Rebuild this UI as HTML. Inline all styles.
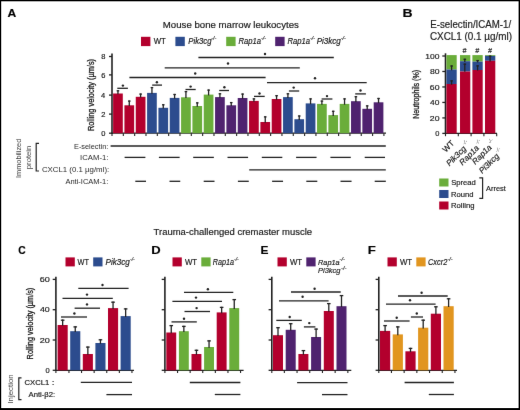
<!DOCTYPE html>
<html><head><meta charset="utf-8"><style>
html,body{margin:0;padding:0;background:#fff;}
body{width:520px;height:410px;overflow:hidden;}
svg{display:block;font-family:"Liberation Sans", sans-serif;will-change:transform;}
text{stroke:#1a1a1a;stroke-width:0.18px;}
text.sup,text.ns{stroke:none;}
</style></head><body>
<svg width="520" height="410" viewBox="0 0 520 410">
<defs><filter id="bl" x="0" y="0" width="520" height="410" filterUnits="userSpaceOnUse" color-interpolation-filters="sRGB"><feConvolveMatrix order="3" kernelMatrix="0.00276 0.04704 0.00276 0.04704 0.80077 0.04704 0.00276 0.04704 0.00276" divisor="1" edgeMode="duplicate" preserveAlpha="true"/></filter></defs>
<rect x="0" y="0" width="520" height="410" fill="#fff"/>
<g filter="url(#bl)">
<rect x="0" y="0" width="520" height="410" fill="#fff"/>
<text x="7.40" y="17.30" font-size="11.3" font-style="normal" font-weight="bold" fill="#000" textLength="8.73" lengthAdjust="spacingAndGlyphs">A</text>
<text x="162.83" y="28.20" font-size="9.3" font-style="normal" font-weight="normal" fill="#1a1a1a" textLength="135.99" lengthAdjust="spacingAndGlyphs">Mouse bone marrow leukocytes</text>
<rect x="141.00" y="36.80" width="9.40" height="9.30" fill="#b3002d"/>
<rect x="175.40" y="36.80" width="9.40" height="9.30" fill="#2c4c8e"/>
<rect x="226.20" y="36.80" width="9.40" height="9.30" fill="#6aad3a"/>
<rect x="275.20" y="36.80" width="9.40" height="9.30" fill="#4f226f"/>
<text x="153.66" y="44.00" font-size="8.3" font-style="normal" font-weight="normal" fill="#1a1a1a" textLength="12.09" lengthAdjust="spacingAndGlyphs">WT</text>
<text x="188.27" y="44.00" font-size="8.3" font-style="italic" font-weight="normal" fill="#1a1a1a" textLength="23.28" lengthAdjust="spacingAndGlyphs">Pik3cg</text>
<text x="211.34" y="40.30" font-size="5.0" font-style="italic" font-weight="normal" fill="#333" textLength="4.99" lengthAdjust="spacingAndGlyphs">-/-</text>
<text x="238.47" y="44.00" font-size="8.3" font-style="italic" font-weight="normal" fill="#1a1a1a" textLength="22.57" lengthAdjust="spacingAndGlyphs">Rap1a</text>
<text x="260.92" y="40.30" font-size="5.0" font-style="italic" font-weight="normal" fill="#333" textLength="5.21" lengthAdjust="spacingAndGlyphs">-/-</text>
<text x="287.47" y="44.00" font-size="8.3" font-style="italic" font-weight="normal" fill="#1a1a1a" textLength="22.57" lengthAdjust="spacingAndGlyphs">Rap1a</text>
<text x="309.92" y="40.30" font-size="5.0" font-style="italic" font-weight="normal" fill="#333" textLength="5.21" lengthAdjust="spacingAndGlyphs">-/-</text>
<text x="316.66" y="44.00" font-size="8.3" font-style="italic" font-weight="normal" fill="#1a1a1a" textLength="24.19" lengthAdjust="spacingAndGlyphs">Pi3kcg</text>
<text x="340.72" y="40.30" font-size="5.0" font-style="italic" font-weight="normal" fill="#333" textLength="5.21" lengthAdjust="spacingAndGlyphs">-/-</text>
<line x1="112.00" y1="53.50" x2="112.00" y2="133.90" stroke="#222" stroke-width="1.6"/>
<line x1="109.00" y1="133.20" x2="112.00" y2="133.20" stroke="#222" stroke-width="1.3"/>
<text x="101.20" y="135.88" font-size="7.5" font-style="normal" font-weight="normal" fill="#1a1a1a" textLength="4.17" lengthAdjust="spacingAndGlyphs">0</text>
<line x1="109.00" y1="114.10" x2="112.00" y2="114.10" stroke="#222" stroke-width="1.3"/>
<text x="101.31" y="116.78" font-size="7.5" font-style="normal" font-weight="normal" fill="#1a1a1a" textLength="4.17" lengthAdjust="spacingAndGlyphs">2</text>
<line x1="109.00" y1="95.10" x2="112.00" y2="95.10" stroke="#222" stroke-width="1.3"/>
<text x="101.12" y="97.78" font-size="7.5" font-style="normal" font-weight="normal" fill="#1a1a1a" textLength="4.17" lengthAdjust="spacingAndGlyphs">4</text>
<line x1="109.00" y1="74.90" x2="112.00" y2="74.90" stroke="#222" stroke-width="1.3"/>
<text x="101.24" y="77.59" font-size="7.5" font-style="normal" font-weight="normal" fill="#1a1a1a" textLength="4.17" lengthAdjust="spacingAndGlyphs">6</text>
<line x1="109.00" y1="56.50" x2="112.00" y2="56.50" stroke="#222" stroke-width="1.3"/>
<text x="101.24" y="59.19" font-size="7.5" font-style="normal" font-weight="normal" fill="#1a1a1a" textLength="4.17" lengthAdjust="spacingAndGlyphs">8</text>
<text transform="translate(93.60,131.09) rotate(-90)" font-size="9.0" fill="#1a1a1a" textLength="72.13" lengthAdjust="spacingAndGlyphs" style="stroke-width:0.3px">Rolling velocity (µm/s)</text>
<line x1="111.50" y1="133.20" x2="386.00" y2="133.20" stroke="#222" stroke-width="1.3"/>
<line x1="112.00" y1="133.20" x2="112.00" y2="136.00" stroke="#222" stroke-width="1.1"/>
<line x1="123.33" y1="133.20" x2="123.33" y2="136.00" stroke="#222" stroke-width="1.1"/>
<line x1="134.66" y1="133.20" x2="134.66" y2="136.00" stroke="#222" stroke-width="1.1"/>
<line x1="145.99" y1="133.20" x2="145.99" y2="136.00" stroke="#222" stroke-width="1.1"/>
<line x1="157.32" y1="133.20" x2="157.32" y2="136.00" stroke="#222" stroke-width="1.1"/>
<line x1="168.65" y1="133.20" x2="168.65" y2="136.00" stroke="#222" stroke-width="1.1"/>
<line x1="179.98" y1="133.20" x2="179.98" y2="136.00" stroke="#222" stroke-width="1.1"/>
<line x1="191.31" y1="133.20" x2="191.31" y2="136.00" stroke="#222" stroke-width="1.1"/>
<line x1="202.64" y1="133.20" x2="202.64" y2="136.00" stroke="#222" stroke-width="1.1"/>
<line x1="213.97" y1="133.20" x2="213.97" y2="136.00" stroke="#222" stroke-width="1.1"/>
<line x1="225.30" y1="133.20" x2="225.30" y2="136.00" stroke="#222" stroke-width="1.1"/>
<line x1="236.63" y1="133.20" x2="236.63" y2="136.00" stroke="#222" stroke-width="1.1"/>
<line x1="247.96" y1="133.20" x2="247.96" y2="136.00" stroke="#222" stroke-width="1.1"/>
<line x1="259.29" y1="133.20" x2="259.29" y2="136.00" stroke="#222" stroke-width="1.1"/>
<line x1="270.62" y1="133.20" x2="270.62" y2="136.00" stroke="#222" stroke-width="1.1"/>
<line x1="281.95" y1="133.20" x2="281.95" y2="136.00" stroke="#222" stroke-width="1.1"/>
<line x1="293.28" y1="133.20" x2="293.28" y2="136.00" stroke="#222" stroke-width="1.1"/>
<line x1="304.61" y1="133.20" x2="304.61" y2="136.00" stroke="#222" stroke-width="1.1"/>
<line x1="315.94" y1="133.20" x2="315.94" y2="136.00" stroke="#222" stroke-width="1.1"/>
<line x1="327.27" y1="133.20" x2="327.27" y2="136.00" stroke="#222" stroke-width="1.1"/>
<line x1="338.60" y1="133.20" x2="338.60" y2="136.00" stroke="#222" stroke-width="1.1"/>
<line x1="349.93" y1="133.20" x2="349.93" y2="136.00" stroke="#222" stroke-width="1.1"/>
<line x1="361.26" y1="133.20" x2="361.26" y2="136.00" stroke="#222" stroke-width="1.1"/>
<line x1="372.59" y1="133.20" x2="372.59" y2="136.00" stroke="#222" stroke-width="1.1"/>
<line x1="383.92" y1="133.20" x2="383.92" y2="136.00" stroke="#222" stroke-width="1.1"/>
<rect x="113.10" y="93.50" width="9.70" height="39.70" fill="#b3002d"/>
<line x1="117.95" y1="90.20" x2="117.95" y2="94.30" stroke="#222" stroke-width="1.3"/>
<line x1="116.65" y1="90.80" x2="119.25" y2="90.80" stroke="#222" stroke-width="1.3"/>
<rect x="124.43" y="105.30" width="9.70" height="27.90" fill="#b3002d"/>
<line x1="129.28" y1="100.50" x2="129.28" y2="106.10" stroke="#222" stroke-width="1.3"/>
<line x1="127.98" y1="101.10" x2="130.58" y2="101.10" stroke="#222" stroke-width="1.3"/>
<rect x="135.76" y="96.80" width="9.70" height="36.40" fill="#b3002d"/>
<line x1="140.61" y1="93.50" x2="140.61" y2="97.60" stroke="#222" stroke-width="1.3"/>
<line x1="139.31" y1="94.10" x2="141.91" y2="94.10" stroke="#222" stroke-width="1.3"/>
<rect x="147.09" y="92.90" width="9.70" height="40.30" fill="#2c4c8e"/>
<line x1="151.94" y1="87.00" x2="151.94" y2="93.70" stroke="#222" stroke-width="1.3"/>
<line x1="150.64" y1="87.60" x2="153.24" y2="87.60" stroke="#222" stroke-width="1.3"/>
<rect x="158.42" y="107.80" width="9.70" height="25.40" fill="#2c4c8e"/>
<line x1="163.27" y1="104.20" x2="163.27" y2="108.60" stroke="#222" stroke-width="1.3"/>
<line x1="161.97" y1="104.80" x2="164.57" y2="104.80" stroke="#222" stroke-width="1.3"/>
<rect x="169.75" y="97.90" width="9.70" height="35.30" fill="#2c4c8e"/>
<line x1="174.60" y1="93.90" x2="174.60" y2="98.70" stroke="#222" stroke-width="1.3"/>
<line x1="173.30" y1="94.50" x2="175.90" y2="94.50" stroke="#222" stroke-width="1.3"/>
<rect x="181.08" y="97.30" width="9.70" height="35.90" fill="#6aad3a"/>
<line x1="185.93" y1="91.00" x2="185.93" y2="98.10" stroke="#222" stroke-width="1.3"/>
<line x1="184.63" y1="91.60" x2="187.23" y2="91.60" stroke="#222" stroke-width="1.3"/>
<rect x="192.41" y="106.00" width="9.70" height="27.20" fill="#6aad3a"/>
<line x1="197.26" y1="102.30" x2="197.26" y2="106.80" stroke="#222" stroke-width="1.3"/>
<line x1="195.96" y1="102.90" x2="198.56" y2="102.90" stroke="#222" stroke-width="1.3"/>
<rect x="203.74" y="94.60" width="9.70" height="38.60" fill="#6aad3a"/>
<line x1="208.59" y1="89.50" x2="208.59" y2="95.40" stroke="#222" stroke-width="1.3"/>
<line x1="207.29" y1="90.10" x2="209.89" y2="90.10" stroke="#222" stroke-width="1.3"/>
<rect x="215.07" y="97.10" width="9.70" height="36.10" fill="#4f226f"/>
<line x1="219.92" y1="93.20" x2="219.92" y2="97.90" stroke="#222" stroke-width="1.3"/>
<line x1="218.62" y1="93.80" x2="221.22" y2="93.80" stroke="#222" stroke-width="1.3"/>
<rect x="226.40" y="105.30" width="9.70" height="27.90" fill="#4f226f"/>
<line x1="231.25" y1="102.00" x2="231.25" y2="106.10" stroke="#222" stroke-width="1.3"/>
<line x1="229.95" y1="102.60" x2="232.55" y2="102.60" stroke="#222" stroke-width="1.3"/>
<rect x="237.73" y="98.00" width="9.70" height="35.20" fill="#4f226f"/>
<line x1="242.58" y1="93.50" x2="242.58" y2="98.80" stroke="#222" stroke-width="1.3"/>
<line x1="241.28" y1="94.10" x2="243.88" y2="94.10" stroke="#222" stroke-width="1.3"/>
<rect x="249.06" y="100.90" width="9.70" height="32.30" fill="#b3002d"/>
<line x1="253.91" y1="98.30" x2="253.91" y2="101.70" stroke="#222" stroke-width="1.3"/>
<line x1="252.61" y1="98.90" x2="255.21" y2="98.90" stroke="#222" stroke-width="1.3"/>
<rect x="260.39" y="122.00" width="9.70" height="11.20" fill="#b3002d"/>
<line x1="265.24" y1="116.30" x2="265.24" y2="122.80" stroke="#222" stroke-width="1.3"/>
<line x1="263.94" y1="116.90" x2="266.54" y2="116.90" stroke="#222" stroke-width="1.3"/>
<rect x="271.72" y="99.00" width="9.70" height="34.20" fill="#b3002d"/>
<line x1="276.57" y1="95.10" x2="276.57" y2="99.80" stroke="#222" stroke-width="1.3"/>
<line x1="275.27" y1="95.70" x2="277.87" y2="95.70" stroke="#222" stroke-width="1.3"/>
<rect x="283.05" y="97.10" width="9.70" height="36.10" fill="#2c4c8e"/>
<line x1="287.90" y1="93.20" x2="287.90" y2="97.90" stroke="#222" stroke-width="1.3"/>
<line x1="286.60" y1="93.80" x2="289.20" y2="93.80" stroke="#222" stroke-width="1.3"/>
<rect x="294.38" y="119.20" width="9.70" height="14.00" fill="#2c4c8e"/>
<line x1="299.23" y1="115.40" x2="299.23" y2="120.00" stroke="#222" stroke-width="1.3"/>
<line x1="297.93" y1="116.00" x2="300.53" y2="116.00" stroke="#222" stroke-width="1.3"/>
<rect x="305.71" y="103.40" width="9.70" height="29.80" fill="#2c4c8e"/>
<line x1="310.56" y1="98.30" x2="310.56" y2="104.20" stroke="#222" stroke-width="1.3"/>
<line x1="309.26" y1="98.90" x2="311.86" y2="98.90" stroke="#222" stroke-width="1.3"/>
<rect x="317.04" y="103.90" width="9.70" height="29.30" fill="#6aad3a"/>
<line x1="321.89" y1="100.50" x2="321.89" y2="104.70" stroke="#222" stroke-width="1.3"/>
<line x1="320.59" y1="101.10" x2="323.19" y2="101.10" stroke="#222" stroke-width="1.3"/>
<rect x="328.37" y="115.10" width="9.70" height="18.10" fill="#6aad3a"/>
<line x1="333.22" y1="110.70" x2="333.22" y2="115.90" stroke="#222" stroke-width="1.3"/>
<line x1="331.92" y1="111.30" x2="334.52" y2="111.30" stroke="#222" stroke-width="1.3"/>
<rect x="339.70" y="103.90" width="9.70" height="29.30" fill="#6aad3a"/>
<line x1="344.55" y1="98.30" x2="344.55" y2="104.70" stroke="#222" stroke-width="1.3"/>
<line x1="343.25" y1="98.90" x2="345.85" y2="98.90" stroke="#222" stroke-width="1.3"/>
<rect x="351.03" y="101.20" width="9.70" height="32.00" fill="#4f226f"/>
<line x1="355.88" y1="96.10" x2="355.88" y2="102.00" stroke="#222" stroke-width="1.3"/>
<line x1="354.58" y1="96.70" x2="357.18" y2="96.70" stroke="#222" stroke-width="1.3"/>
<rect x="362.36" y="108.80" width="9.70" height="24.40" fill="#4f226f"/>
<line x1="367.21" y1="105.30" x2="367.21" y2="109.60" stroke="#222" stroke-width="1.3"/>
<line x1="365.91" y1="105.90" x2="368.51" y2="105.90" stroke="#222" stroke-width="1.3"/>
<rect x="373.69" y="102.30" width="9.70" height="30.90" fill="#4f226f"/>
<line x1="378.54" y1="97.90" x2="378.54" y2="103.10" stroke="#222" stroke-width="1.3"/>
<line x1="377.24" y1="98.50" x2="379.84" y2="98.50" stroke="#222" stroke-width="1.3"/>
<line x1="117.30" y1="88.30" x2="127.90" y2="88.30" stroke="#222" stroke-width="1.3"/>
<circle cx="122.90" cy="85.60" r="1.2" fill="#222"/>
<line x1="152.20" y1="85.10" x2="162.00" y2="85.10" stroke="#222" stroke-width="1.3"/>
<circle cx="156.90" cy="82.20" r="1.2" fill="#222"/>
<line x1="185.50" y1="89.50" x2="195.70" y2="89.50" stroke="#222" stroke-width="1.3"/>
<circle cx="190.60" cy="86.60" r="1.2" fill="#222"/>
<line x1="219.20" y1="90.50" x2="229.00" y2="90.50" stroke="#222" stroke-width="1.3"/>
<circle cx="224.40" cy="87.30" r="1.2" fill="#222"/>
<line x1="254.00" y1="96.40" x2="264.70" y2="96.40" stroke="#222" stroke-width="1.3"/>
<circle cx="259.50" cy="93.50" r="1.2" fill="#222"/>
<line x1="288.90" y1="91.00" x2="299.20" y2="91.00" stroke="#222" stroke-width="1.3"/>
<circle cx="293.70" cy="87.60" r="1.2" fill="#222"/>
<line x1="321.60" y1="99.00" x2="332.40" y2="99.00" stroke="#222" stroke-width="1.3"/>
<circle cx="327.00" cy="96.10" r="1.2" fill="#222"/>
<line x1="355.20" y1="93.90" x2="365.90" y2="93.90" stroke="#222" stroke-width="1.3"/>
<circle cx="360.50" cy="90.50" r="1.2" fill="#222"/>
<line x1="198.40" y1="57.50" x2="333.80" y2="57.50" stroke="#222" stroke-width="1.3"/>
<circle cx="265.00" cy="54.00" r="1.2" fill="#222"/>
<line x1="164.70" y1="67.80" x2="299.80" y2="67.80" stroke="#222" stroke-width="1.3"/>
<circle cx="228.00" cy="63.50" r="1.2" fill="#222"/>
<line x1="129.40" y1="77.50" x2="265.60" y2="77.50" stroke="#222" stroke-width="1.3"/>
<circle cx="195.20" cy="73.50" r="1.2" fill="#222"/>
<line x1="267.00" y1="82.60" x2="366.70" y2="82.60" stroke="#222" stroke-width="1.3"/>
<circle cx="315.00" cy="78.30" r="1.2" fill="#222"/>
<text x="74.01" y="148.60" font-size="8.0" font-style="normal" font-weight="normal" fill="#2a2a2a" textLength="34.34" lengthAdjust="spacingAndGlyphs" class="ns">E-selectin:</text>
<text x="80.11" y="160.30" font-size="8.0" font-style="normal" font-weight="normal" fill="#2a2a2a" textLength="28.27" lengthAdjust="spacingAndGlyphs" class="ns">ICAM-1:</text>
<text x="41.91" y="172.20" font-size="8.0" font-style="normal" font-weight="normal" fill="#2a2a2a" textLength="67.29" lengthAdjust="spacingAndGlyphs" class="ns">CXCL1 (0.1 µg/ml):</text>
<text x="65.40" y="184.00" font-size="8.0" font-style="normal" font-weight="normal" fill="#2a2a2a" textLength="42.96" lengthAdjust="spacingAndGlyphs" class="ns">Anti-ICAM-1:</text>
<line x1="110.60" y1="146.00" x2="385.80" y2="146.00" stroke="#222" stroke-width="1.3"/>
<line x1="124.60" y1="157.40" x2="145.40" y2="157.40" stroke="#222" stroke-width="1.3"/>
<line x1="135.30" y1="181.30" x2="146.00" y2="181.30" stroke="#222" stroke-width="1.3"/>
<line x1="158.90" y1="157.40" x2="179.63" y2="157.40" stroke="#222" stroke-width="1.3"/>
<line x1="169.50" y1="181.30" x2="180.26" y2="181.30" stroke="#222" stroke-width="1.3"/>
<line x1="193.20" y1="157.40" x2="213.86" y2="157.40" stroke="#222" stroke-width="1.3"/>
<line x1="203.70" y1="181.30" x2="214.52" y2="181.30" stroke="#222" stroke-width="1.3"/>
<line x1="227.50" y1="157.40" x2="248.09" y2="157.40" stroke="#222" stroke-width="1.3"/>
<line x1="237.90" y1="181.30" x2="248.78" y2="181.30" stroke="#222" stroke-width="1.3"/>
<line x1="261.80" y1="157.40" x2="282.32" y2="157.40" stroke="#222" stroke-width="1.3"/>
<line x1="272.10" y1="181.30" x2="283.04" y2="181.30" stroke="#222" stroke-width="1.3"/>
<line x1="296.10" y1="157.40" x2="316.55" y2="157.40" stroke="#222" stroke-width="1.3"/>
<line x1="306.30" y1="181.30" x2="317.30" y2="181.30" stroke="#222" stroke-width="1.3"/>
<line x1="330.40" y1="157.40" x2="350.78" y2="157.40" stroke="#222" stroke-width="1.3"/>
<line x1="340.50" y1="181.30" x2="351.56" y2="181.30" stroke="#222" stroke-width="1.3"/>
<line x1="364.70" y1="157.40" x2="385.01" y2="157.40" stroke="#222" stroke-width="1.3"/>
<line x1="374.70" y1="181.30" x2="385.82" y2="181.30" stroke="#222" stroke-width="1.3"/>
<line x1="249.20" y1="169.80" x2="385.80" y2="169.80" stroke="#222" stroke-width="1.3"/>
<text transform="translate(21.40,177.96) rotate(-90)" font-size="7.0" fill="#444" textLength="39.20" lengthAdjust="spacingAndGlyphs" style="stroke-width:0px">Immobilized</text>
<text transform="translate(30.90,169.20) rotate(-90)" font-size="7.0" fill="#444" textLength="23.48" lengthAdjust="spacingAndGlyphs" style="stroke-width:0px">protein</text>
<path d="M39,143.4 H36.2 V171 H39" fill="none" stroke="#222" stroke-width="1.2"/>
<text x="402.59" y="17.40" font-size="11.8" font-style="normal" font-weight="bold" fill="#000" textLength="10.10" lengthAdjust="spacingAndGlyphs">B</text>
<text x="430.32" y="28.30" font-size="10.3" font-style="normal" font-weight="normal" fill="#1a1a1a" textLength="80.83" lengthAdjust="spacingAndGlyphs">E-selectin/ICAM-1/</text>
<text x="429.90" y="40.40" font-size="10.3" font-style="normal" font-weight="normal" fill="#1a1a1a" textLength="82.20" lengthAdjust="spacingAndGlyphs">CXCL1 (0.1 µg/ml)</text>
<line x1="445.50" y1="53.30" x2="445.50" y2="134.10" stroke="#222" stroke-width="1.6"/>
<line x1="442.30" y1="133.40" x2="445.50" y2="133.40" stroke="#222" stroke-width="1.3"/>
<text x="435.30" y="136.12" font-size="7.6" font-style="normal" font-weight="normal" fill="#1a1a1a" textLength="4.17" lengthAdjust="spacingAndGlyphs">0</text>
<line x1="442.30" y1="117.92" x2="445.50" y2="117.92" stroke="#222" stroke-width="1.3"/>
<text x="429.87" y="120.64" font-size="7.6" font-style="normal" font-weight="normal" fill="#1a1a1a" textLength="9.66" lengthAdjust="spacingAndGlyphs">20</text>
<line x1="442.30" y1="102.44" x2="445.50" y2="102.44" stroke="#222" stroke-width="1.3"/>
<text x="430.13" y="105.16" font-size="7.6" font-style="normal" font-weight="normal" fill="#1a1a1a" textLength="9.38" lengthAdjust="spacingAndGlyphs">40</text>
<line x1="442.30" y1="86.96" x2="445.50" y2="86.96" stroke="#222" stroke-width="1.3"/>
<text x="429.87" y="89.68" font-size="7.6" font-style="normal" font-weight="normal" fill="#1a1a1a" textLength="9.66" lengthAdjust="spacingAndGlyphs">60</text>
<line x1="442.30" y1="71.48" x2="445.50" y2="71.48" stroke="#222" stroke-width="1.3"/>
<text x="429.96" y="74.20" font-size="7.6" font-style="normal" font-weight="normal" fill="#1a1a1a" textLength="9.57" lengthAdjust="spacingAndGlyphs">80</text>
<line x1="442.30" y1="56.00" x2="445.50" y2="56.00" stroke="#222" stroke-width="1.3"/>
<text x="425.36" y="58.72" font-size="7.6" font-style="normal" font-weight="normal" fill="#1a1a1a" textLength="14.16" lengthAdjust="spacingAndGlyphs">100</text>
<text transform="translate(418.90,118.77) rotate(-90)" font-size="9.0" fill="#1a1a1a" textLength="48.90" lengthAdjust="spacingAndGlyphs" style="stroke-width:0.3px">Neutrophils (%)</text>
<line x1="445.00" y1="133.40" x2="497.00" y2="133.40" stroke="#222" stroke-width="1.3"/>
<line x1="445.50" y1="133.40" x2="445.50" y2="136.20" stroke="#222" stroke-width="1.1"/>
<line x1="458.30" y1="133.40" x2="458.30" y2="136.20" stroke="#222" stroke-width="1.1"/>
<line x1="471.10" y1="133.40" x2="471.10" y2="136.20" stroke="#222" stroke-width="1.1"/>
<line x1="483.90" y1="133.40" x2="483.90" y2="136.20" stroke="#222" stroke-width="1.1"/>
<line x1="496.70" y1="133.40" x2="496.70" y2="136.20" stroke="#222" stroke-width="1.1"/>
<rect x="446.40" y="55.10" width="10.30" height="14.40" fill="#6aad3a"/>
<rect x="446.40" y="69.50" width="10.30" height="14.50" fill="#2c4c8e"/>
<rect x="446.40" y="84.00" width="10.30" height="49.40" fill="#b3002d"/>
<rect x="460.00" y="55.10" width="10.30" height="6.10" fill="#6aad3a"/>
<rect x="460.00" y="61.20" width="10.30" height="10.30" fill="#2c4c8e"/>
<rect x="460.00" y="71.50" width="10.30" height="61.90" fill="#b3002d"/>
<rect x="472.40" y="55.10" width="10.30" height="6.50" fill="#6aad3a"/>
<rect x="472.40" y="61.60" width="10.30" height="8.40" fill="#2c4c8e"/>
<rect x="472.40" y="70.00" width="10.30" height="63.40" fill="#b3002d"/>
<rect x="485.00" y="55.10" width="10.30" height="0.80" fill="#6aad3a"/>
<rect x="485.00" y="55.90" width="10.30" height="4.90" fill="#2c4c8e"/>
<rect x="485.00" y="60.80" width="10.30" height="72.60" fill="#b3002d"/>
<line x1="451.60" y1="65.40" x2="451.60" y2="70.30" stroke="#222" stroke-width="1.3"/>
<line x1="450.30" y1="66.00" x2="452.90" y2="66.00" stroke="#222" stroke-width="1.3"/>
<line x1="451.60" y1="80.30" x2="451.60" y2="84.80" stroke="#222" stroke-width="1.3"/>
<line x1="450.30" y1="80.90" x2="452.90" y2="80.90" stroke="#222" stroke-width="1.3"/>
<line x1="464.80" y1="58.70" x2="464.80" y2="62.00" stroke="#222" stroke-width="1.3"/>
<line x1="463.50" y1="59.30" x2="466.10" y2="59.30" stroke="#222" stroke-width="1.3"/>
<line x1="464.80" y1="63.60" x2="464.80" y2="71.80" stroke="#222" stroke-width="1.3"/>
<line x1="463.50" y1="64.20" x2="466.10" y2="64.20" stroke="#222" stroke-width="1.3"/>
<line x1="477.60" y1="60.00" x2="477.60" y2="62.40" stroke="#222" stroke-width="1.3"/>
<line x1="476.30" y1="60.60" x2="478.90" y2="60.60" stroke="#222" stroke-width="1.3"/>
<line x1="477.60" y1="65.30" x2="477.60" y2="70.60" stroke="#222" stroke-width="1.3"/>
<line x1="476.30" y1="65.90" x2="478.90" y2="65.90" stroke="#222" stroke-width="1.3"/>
<line x1="490.10" y1="55.60" x2="490.10" y2="61.40" stroke="#222" stroke-width="1.3"/>
<line x1="488.80" y1="56.20" x2="491.40" y2="56.20" stroke="#222" stroke-width="1.3"/>
<text x="464.5" y="53.1" font-size="7" text-anchor="middle" font-style="italic" fill="#333">#</text>
<text x="477.3" y="53.1" font-size="7" text-anchor="middle" font-style="italic" fill="#333">#</text>
<text x="490.0" y="53.1" font-size="7" text-anchor="middle" font-style="italic" fill="#333">#</text>
<text transform="translate(454.80,143.80) rotate(-45)" font-size="8.2" text-anchor="end" font-style="normal" fill="#1a1a1a">WT</text>
<text transform="translate(466.80,149.20) rotate(-45)" font-size="8.2" text-anchor="end" font-style="italic" fill="#1a1a1a">Pik3cg</text>
<text transform="translate(464.40,145.20) rotate(-45)" font-size="5.2" fill="#444" font-style="italic" class="sup">-/-</text>
<text transform="translate(479.60,148.60) rotate(-45)" font-size="8.2" text-anchor="end" font-style="italic" fill="#1a1a1a">Rap1a</text>
<text transform="translate(477.20,144.60) rotate(-45)" font-size="5.2" fill="#444" font-style="italic" class="sup">-/-</text>
<text transform="translate(492.30,147.90) rotate(-45)" font-size="8.2" text-anchor="end" font-style="italic" fill="#1a1a1a">Rap1a</text>
<text transform="translate(489.90,143.90) rotate(-45)" font-size="5.2" fill="#444" font-style="italic" class="sup">-/-</text>
<text transform="translate(499.60,156.70) rotate(-45)" font-size="8.2" text-anchor="end" font-style="italic" fill="#1a1a1a">Pi3kcg</text>
<text transform="translate(497.20,152.70) rotate(-45)" font-size="5.2" fill="#444" font-style="italic" class="sup">-/-</text>
<rect x="439.20" y="178.50" width="9.30" height="8.00" fill="#6aad3a"/>
<rect x="439.20" y="190.00" width="9.30" height="8.00" fill="#2c4c8e"/>
<rect x="439.20" y="201.50" width="9.30" height="8.00" fill="#b3002d"/>
<text x="451.26" y="185.40" font-size="7.8" font-style="normal" font-weight="normal" fill="#1a1a1a" textLength="24.60" lengthAdjust="spacingAndGlyphs">Spread</text>
<text x="450.99" y="196.90" font-size="7.8" font-style="normal" font-weight="normal" fill="#1a1a1a" textLength="22.48" lengthAdjust="spacingAndGlyphs">Round</text>
<text x="450.99" y="208.40" font-size="7.8" font-style="normal" font-weight="normal" fill="#1a1a1a" textLength="23.49" lengthAdjust="spacingAndGlyphs">Rolling</text>
<path d="M479.3,177.9 H482.6 V198.3 H479.3" fill="none" stroke="#222" stroke-width="1.2"/>
<text x="486.10" y="190.70" font-size="7.8" font-style="normal" font-weight="normal" fill="#1a1a1a" textLength="19.75" lengthAdjust="spacingAndGlyphs">Arrest</text>
<text x="153.61" y="234.50" font-size="9.3" font-style="normal" font-weight="normal" fill="#1a1a1a" textLength="158.49" lengthAdjust="spacingAndGlyphs">Trauma-challenged cremaster muscle</text>
<text x="18.34" y="253.90" font-size="11.4" font-style="normal" font-weight="bold" fill="#000" textLength="7.44" lengthAdjust="spacingAndGlyphs">C</text>
<text x="151.15" y="253.90" font-size="11.4" font-style="normal" font-weight="bold" fill="#000" textLength="9.39" lengthAdjust="spacingAndGlyphs">D</text>
<text x="260.47" y="253.90" font-size="11.4" font-style="normal" font-weight="bold" fill="#000" textLength="7.97" lengthAdjust="spacingAndGlyphs">E</text>
<text x="367.89" y="253.90" font-size="11.4" font-style="normal" font-weight="bold" fill="#000" textLength="8.08" lengthAdjust="spacingAndGlyphs">F</text>
<line x1="55.90" y1="276.70" x2="55.90" y2="371.00" stroke="#222" stroke-width="1.6"/>
<line x1="52.70" y1="370.30" x2="55.90" y2="370.30" stroke="#222" stroke-width="1.3"/>
<text x="45.50" y="373.02" font-size="7.6" font-style="normal" font-weight="normal" fill="#1a1a1a" textLength="4.17" lengthAdjust="spacingAndGlyphs">0</text>
<line x1="52.70" y1="340.00" x2="55.90" y2="340.00" stroke="#222" stroke-width="1.3"/>
<text x="39.65" y="342.72" font-size="7.6" font-style="normal" font-weight="normal" fill="#1a1a1a" textLength="10.09" lengthAdjust="spacingAndGlyphs">20</text>
<line x1="52.70" y1="309.70" x2="55.90" y2="309.70" stroke="#222" stroke-width="1.3"/>
<text x="39.92" y="312.42" font-size="7.6" font-style="normal" font-weight="normal" fill="#1a1a1a" textLength="9.81" lengthAdjust="spacingAndGlyphs">40</text>
<line x1="52.70" y1="279.40" x2="55.90" y2="279.40" stroke="#222" stroke-width="1.3"/>
<text x="39.65" y="282.12" font-size="7.6" font-style="normal" font-weight="normal" fill="#1a1a1a" textLength="10.09" lengthAdjust="spacingAndGlyphs">60</text>
<line x1="55.40" y1="370.30" x2="134.00" y2="370.30" stroke="#222" stroke-width="1.3"/>
<line x1="55.90" y1="370.30" x2="55.90" y2="373.10" stroke="#222" stroke-width="1.1"/>
<line x1="68.95" y1="370.30" x2="68.95" y2="373.10" stroke="#222" stroke-width="1.1"/>
<line x1="81.55" y1="370.30" x2="81.55" y2="373.10" stroke="#222" stroke-width="1.1"/>
<line x1="94.15" y1="370.30" x2="94.15" y2="373.10" stroke="#222" stroke-width="1.1"/>
<line x1="106.75" y1="370.30" x2="106.75" y2="373.10" stroke="#222" stroke-width="1.1"/>
<line x1="119.35" y1="370.30" x2="119.35" y2="373.10" stroke="#222" stroke-width="1.1"/>
<line x1="131.95" y1="370.30" x2="131.95" y2="373.10" stroke="#222" stroke-width="1.1"/>
<rect x="57.60" y="325.00" width="10.10" height="45.30" fill="#b3002d"/>
<line x1="62.65" y1="319.60" x2="62.65" y2="325.80" stroke="#222" stroke-width="1.3"/>
<line x1="60.85" y1="320.20" x2="64.45" y2="320.20" stroke="#222" stroke-width="1.3"/>
<rect x="70.20" y="331.20" width="10.10" height="39.10" fill="#2c4c8e"/>
<line x1="75.25" y1="326.30" x2="75.25" y2="332.00" stroke="#222" stroke-width="1.3"/>
<line x1="73.45" y1="326.90" x2="77.05" y2="326.90" stroke="#222" stroke-width="1.3"/>
<rect x="82.80" y="354.00" width="10.10" height="16.30" fill="#b3002d"/>
<line x1="87.85" y1="346.50" x2="87.85" y2="354.80" stroke="#222" stroke-width="1.3"/>
<line x1="86.05" y1="347.10" x2="89.65" y2="347.10" stroke="#222" stroke-width="1.3"/>
<rect x="95.40" y="343.00" width="10.10" height="27.30" fill="#2c4c8e"/>
<line x1="100.45" y1="339.20" x2="100.45" y2="343.80" stroke="#222" stroke-width="1.3"/>
<line x1="98.65" y1="339.80" x2="102.25" y2="339.80" stroke="#222" stroke-width="1.3"/>
<rect x="108.00" y="308.10" width="10.10" height="62.20" fill="#b3002d"/>
<line x1="113.05" y1="301.60" x2="113.05" y2="308.90" stroke="#222" stroke-width="1.3"/>
<line x1="111.25" y1="302.20" x2="114.85" y2="302.20" stroke="#222" stroke-width="1.3"/>
<rect x="120.60" y="316.10" width="10.10" height="54.20" fill="#2c4c8e"/>
<line x1="125.65" y1="308.30" x2="125.65" y2="316.90" stroke="#222" stroke-width="1.3"/>
<line x1="123.85" y1="308.90" x2="127.45" y2="308.90" stroke="#222" stroke-width="1.3"/>
<line x1="78.30" y1="288.40" x2="128.60" y2="288.40" stroke="#222" stroke-width="1.3"/>
<circle cx="102.50" cy="285.00" r="1.2" fill="#222"/>
<line x1="62.50" y1="298.40" x2="112.80" y2="298.40" stroke="#222" stroke-width="1.3"/>
<circle cx="87.00" cy="294.60" r="1.2" fill="#222"/>
<line x1="74.60" y1="308.20" x2="100.00" y2="308.20" stroke="#222" stroke-width="1.3"/>
<circle cx="87.00" cy="304.40" r="1.2" fill="#222"/>
<line x1="61.00" y1="317.00" x2="87.00" y2="317.00" stroke="#222" stroke-width="1.3"/>
<circle cx="74.40" cy="313.50" r="1.2" fill="#222"/>
<line x1="80.80" y1="382.30" x2="132.00" y2="382.30" stroke="#222" stroke-width="1.3"/>
<line x1="106.40" y1="394.60" x2="132.00" y2="394.60" stroke="#222" stroke-width="1.3"/>
<text transform="translate(33.20,359.38) rotate(-90)" font-size="9.0" fill="#1a1a1a" textLength="71.63" lengthAdjust="spacingAndGlyphs" style="stroke-width:0.3px">Rolling velocity (µm/s)</text>
<text x="24.52" y="385.10" font-size="7.4" font-style="normal" font-weight="normal" fill="#1a1a1a" textLength="24.72" lengthAdjust="spacingAndGlyphs">CXCL1</text>
<text x="51.52" y="385.10" font-size="7.4" font-style="normal" font-weight="normal" fill="#1a1a1a" textLength="3.33" lengthAdjust="spacingAndGlyphs">:</text>
<text x="28.50" y="397.00" font-size="7.4" font-style="normal" font-weight="normal" fill="#1a1a1a" textLength="26.76" lengthAdjust="spacingAndGlyphs">Anti-β2:</text>
<text transform="translate(13.00,403.61) rotate(-90)" font-size="7.4" fill="#444" textLength="29.28" lengthAdjust="spacingAndGlyphs" style="stroke-width:0px">Injection</text>
<path d="M21.5,377.8 H18.8 V399.6 H21.5" fill="none" stroke="#222" stroke-width="1.2"/>
<rect x="65.50" y="257.40" width="9.30" height="9.00" fill="#b3002d"/>
<text x="77.46" y="264.80" font-size="8.3" font-style="normal" font-weight="normal" fill="#1a1a1a" textLength="11.43" lengthAdjust="spacingAndGlyphs">WT</text>
<rect x="93.20" y="257.40" width="9.30" height="9.00" fill="#2c4c8e"/>
<text x="105.56" y="264.60" font-size="8.3" font-style="italic" font-weight="normal" fill="#1a1a1a" textLength="24.30" lengthAdjust="spacingAndGlyphs">Pik3cg</text>
<text x="130.05" y="260.60" font-size="5.0" font-style="italic" font-weight="normal" fill="#333" textLength="4.77" lengthAdjust="spacingAndGlyphs">-/-</text>
<line x1="164.90" y1="276.70" x2="164.90" y2="371.00" stroke="#222" stroke-width="1.6"/>
<line x1="161.70" y1="370.30" x2="164.90" y2="370.30" stroke="#222" stroke-width="1.3"/>
<line x1="161.70" y1="340.00" x2="164.90" y2="340.00" stroke="#222" stroke-width="1.3"/>
<line x1="161.70" y1="309.70" x2="164.90" y2="309.70" stroke="#222" stroke-width="1.3"/>
<line x1="161.70" y1="279.40" x2="164.90" y2="279.40" stroke="#222" stroke-width="1.3"/>
<line x1="164.40" y1="370.30" x2="243.60" y2="370.30" stroke="#222" stroke-width="1.3"/>
<line x1="164.90" y1="370.30" x2="164.90" y2="373.10" stroke="#222" stroke-width="1.1"/>
<line x1="177.55" y1="370.30" x2="177.55" y2="373.10" stroke="#222" stroke-width="1.1"/>
<line x1="190.15" y1="370.30" x2="190.15" y2="373.10" stroke="#222" stroke-width="1.1"/>
<line x1="202.75" y1="370.30" x2="202.75" y2="373.10" stroke="#222" stroke-width="1.1"/>
<line x1="215.35" y1="370.30" x2="215.35" y2="373.10" stroke="#222" stroke-width="1.1"/>
<line x1="227.95" y1="370.30" x2="227.95" y2="373.10" stroke="#222" stroke-width="1.1"/>
<line x1="240.55" y1="370.30" x2="240.55" y2="373.10" stroke="#222" stroke-width="1.1"/>
<rect x="166.30" y="332.50" width="9.90" height="37.80" fill="#b3002d"/>
<line x1="171.25" y1="325.00" x2="171.25" y2="333.30" stroke="#222" stroke-width="1.3"/>
<line x1="169.45" y1="325.60" x2="173.05" y2="325.60" stroke="#222" stroke-width="1.3"/>
<rect x="178.90" y="331.20" width="9.90" height="39.10" fill="#6aad3a"/>
<line x1="183.85" y1="325.80" x2="183.85" y2="332.00" stroke="#222" stroke-width="1.3"/>
<line x1="182.05" y1="326.40" x2="185.65" y2="326.40" stroke="#222" stroke-width="1.3"/>
<rect x="191.50" y="354.00" width="9.90" height="16.30" fill="#b3002d"/>
<line x1="196.45" y1="349.70" x2="196.45" y2="354.80" stroke="#222" stroke-width="1.3"/>
<line x1="194.65" y1="350.30" x2="198.25" y2="350.30" stroke="#222" stroke-width="1.3"/>
<rect x="204.10" y="347.00" width="9.90" height="23.30" fill="#6aad3a"/>
<line x1="209.05" y1="340.30" x2="209.05" y2="347.80" stroke="#222" stroke-width="1.3"/>
<line x1="207.25" y1="340.90" x2="210.85" y2="340.90" stroke="#222" stroke-width="1.3"/>
<rect x="216.70" y="312.40" width="9.90" height="57.90" fill="#b3002d"/>
<line x1="221.65" y1="306.80" x2="221.65" y2="313.20" stroke="#222" stroke-width="1.3"/>
<line x1="219.85" y1="307.40" x2="223.45" y2="307.40" stroke="#222" stroke-width="1.3"/>
<rect x="229.30" y="308.10" width="9.90" height="62.20" fill="#6aad3a"/>
<line x1="234.25" y1="299.00" x2="234.25" y2="308.90" stroke="#222" stroke-width="1.3"/>
<line x1="232.45" y1="299.60" x2="236.05" y2="299.60" stroke="#222" stroke-width="1.3"/>
<line x1="184.00" y1="292.40" x2="233.30" y2="292.40" stroke="#222" stroke-width="1.3"/>
<circle cx="207.90" cy="289.30" r="1.2" fill="#222"/>
<line x1="172.40" y1="301.40" x2="222.00" y2="301.40" stroke="#222" stroke-width="1.3"/>
<circle cx="196.00" cy="297.60" r="1.2" fill="#222"/>
<line x1="184.50" y1="311.50" x2="210.00" y2="311.50" stroke="#222" stroke-width="1.3"/>
<circle cx="196.60" cy="308.10" r="1.2" fill="#222"/>
<line x1="171.50" y1="321.90" x2="196.80" y2="321.90" stroke="#222" stroke-width="1.3"/>
<circle cx="184.00" cy="318.80" r="1.2" fill="#222"/>
<line x1="189.80" y1="382.50" x2="240.40" y2="382.50" stroke="#222" stroke-width="1.3"/>
<line x1="214.80" y1="394.50" x2="240.40" y2="394.50" stroke="#222" stroke-width="1.3"/>
<rect x="172.50" y="257.40" width="9.30" height="9.00" fill="#b3002d"/>
<text x="184.96" y="264.80" font-size="8.3" font-style="normal" font-weight="normal" fill="#1a1a1a" textLength="12.19" lengthAdjust="spacingAndGlyphs">WT</text>
<rect x="201.30" y="257.40" width="9.30" height="9.00" fill="#6aad3a"/>
<text x="212.78" y="264.60" font-size="8.3" font-style="italic" font-weight="normal" fill="#1a1a1a" textLength="21.20" lengthAdjust="spacingAndGlyphs">Rap1a</text>
<text x="234.00" y="260.60" font-size="5.0" font-style="italic" font-weight="normal" fill="#333" textLength="4.77" lengthAdjust="spacingAndGlyphs">-/-</text>
<line x1="271.80" y1="276.70" x2="271.80" y2="371.00" stroke="#222" stroke-width="1.6"/>
<line x1="268.60" y1="370.30" x2="271.80" y2="370.30" stroke="#222" stroke-width="1.3"/>
<line x1="268.60" y1="340.00" x2="271.80" y2="340.00" stroke="#222" stroke-width="1.3"/>
<line x1="268.60" y1="309.70" x2="271.80" y2="309.70" stroke="#222" stroke-width="1.3"/>
<line x1="268.60" y1="279.40" x2="271.80" y2="279.40" stroke="#222" stroke-width="1.3"/>
<line x1="271.30" y1="370.30" x2="351.30" y2="370.30" stroke="#222" stroke-width="1.3"/>
<line x1="271.80" y1="370.30" x2="271.80" y2="373.10" stroke="#222" stroke-width="1.1"/>
<line x1="284.35" y1="370.30" x2="284.35" y2="373.10" stroke="#222" stroke-width="1.1"/>
<line x1="297.05" y1="370.30" x2="297.05" y2="373.10" stroke="#222" stroke-width="1.1"/>
<line x1="309.75" y1="370.30" x2="309.75" y2="373.10" stroke="#222" stroke-width="1.1"/>
<line x1="322.45" y1="370.30" x2="322.45" y2="373.10" stroke="#222" stroke-width="1.1"/>
<line x1="335.15" y1="370.30" x2="335.15" y2="373.10" stroke="#222" stroke-width="1.1"/>
<line x1="347.85" y1="370.30" x2="347.85" y2="373.10" stroke="#222" stroke-width="1.1"/>
<rect x="273.00" y="335.20" width="10.00" height="35.10" fill="#b3002d"/>
<line x1="278.00" y1="327.10" x2="278.00" y2="336.00" stroke="#222" stroke-width="1.3"/>
<line x1="276.20" y1="327.70" x2="279.80" y2="327.70" stroke="#222" stroke-width="1.3"/>
<rect x="285.70" y="329.80" width="10.00" height="40.50" fill="#4f226f"/>
<line x1="290.70" y1="323.10" x2="290.70" y2="330.60" stroke="#222" stroke-width="1.3"/>
<line x1="288.90" y1="323.70" x2="292.50" y2="323.70" stroke="#222" stroke-width="1.3"/>
<rect x="298.40" y="354.00" width="10.00" height="16.30" fill="#b3002d"/>
<line x1="303.40" y1="350.00" x2="303.40" y2="354.80" stroke="#222" stroke-width="1.3"/>
<line x1="301.60" y1="350.60" x2="305.20" y2="350.60" stroke="#222" stroke-width="1.3"/>
<rect x="311.10" y="337.00" width="10.00" height="33.30" fill="#4f226f"/>
<line x1="316.10" y1="328.50" x2="316.10" y2="337.80" stroke="#222" stroke-width="1.3"/>
<line x1="314.30" y1="329.10" x2="317.90" y2="329.10" stroke="#222" stroke-width="1.3"/>
<rect x="323.80" y="311.00" width="10.00" height="59.30" fill="#b3002d"/>
<line x1="328.80" y1="303.00" x2="328.80" y2="311.80" stroke="#222" stroke-width="1.3"/>
<line x1="327.00" y1="303.60" x2="330.60" y2="303.60" stroke="#222" stroke-width="1.3"/>
<rect x="336.50" y="306.20" width="10.00" height="64.10" fill="#4f226f"/>
<line x1="341.50" y1="295.00" x2="341.50" y2="307.00" stroke="#222" stroke-width="1.3"/>
<line x1="339.70" y1="295.60" x2="343.30" y2="295.60" stroke="#222" stroke-width="1.3"/>
<line x1="291.00" y1="292.00" x2="340.70" y2="292.00" stroke="#222" stroke-width="1.3"/>
<circle cx="314.60" cy="288.80" r="1.2" fill="#222"/>
<line x1="279.00" y1="300.90" x2="328.60" y2="300.90" stroke="#222" stroke-width="1.3"/>
<circle cx="302.60" cy="296.80" r="1.2" fill="#222"/>
<line x1="276.30" y1="320.40" x2="301.80" y2="320.40" stroke="#222" stroke-width="1.3"/>
<circle cx="289.70" cy="317.00" r="1.2" fill="#222"/>
<line x1="303.90" y1="326.90" x2="315.40" y2="326.90" stroke="#222" stroke-width="1.3"/>
<circle cx="309.30" cy="323.10" r="1.2" fill="#222"/>
<line x1="297.10" y1="382.70" x2="347.50" y2="382.70" stroke="#222" stroke-width="1.3"/>
<line x1="322.00" y1="394.60" x2="347.50" y2="394.60" stroke="#222" stroke-width="1.3"/>
<rect x="277.50" y="257.40" width="9.30" height="9.00" fill="#b3002d"/>
<text x="289.96" y="264.80" font-size="8.3" font-style="normal" font-weight="normal" fill="#1a1a1a" textLength="12.19" lengthAdjust="spacingAndGlyphs">WT</text>
<rect x="306.30" y="257.40" width="9.30" height="9.00" fill="#4f226f"/>
<text x="318.08" y="264.60" font-size="7.6" font-style="italic" font-weight="normal" fill="#1a1a1a" textLength="21.55" lengthAdjust="spacingAndGlyphs">Rap1a</text>
<text x="339.61" y="260.60" font-size="5.0" font-style="italic" font-weight="normal" fill="#333" textLength="5.42" lengthAdjust="spacingAndGlyphs">-/-</text>
<text x="318.08" y="273.20" font-size="7.6" font-style="italic" font-weight="normal" fill="#1a1a1a" textLength="22.37" lengthAdjust="spacingAndGlyphs">Pi3kcg</text>
<text x="341.02" y="269.60" font-size="5.0" font-style="italic" font-weight="normal" fill="#333" textLength="5.32" lengthAdjust="spacingAndGlyphs">-/-</text>
<line x1="378.80" y1="276.70" x2="378.80" y2="371.00" stroke="#222" stroke-width="1.6"/>
<line x1="375.60" y1="370.30" x2="378.80" y2="370.30" stroke="#222" stroke-width="1.3"/>
<line x1="375.60" y1="340.00" x2="378.80" y2="340.00" stroke="#222" stroke-width="1.3"/>
<line x1="375.60" y1="309.70" x2="378.80" y2="309.70" stroke="#222" stroke-width="1.3"/>
<line x1="375.60" y1="279.40" x2="378.80" y2="279.40" stroke="#222" stroke-width="1.3"/>
<line x1="378.30" y1="370.30" x2="457.00" y2="370.30" stroke="#222" stroke-width="1.3"/>
<line x1="378.80" y1="370.30" x2="378.80" y2="373.10" stroke="#222" stroke-width="1.1"/>
<line x1="391.45" y1="370.30" x2="391.45" y2="373.10" stroke="#222" stroke-width="1.1"/>
<line x1="404.15" y1="370.30" x2="404.15" y2="373.10" stroke="#222" stroke-width="1.1"/>
<line x1="416.85" y1="370.30" x2="416.85" y2="373.10" stroke="#222" stroke-width="1.1"/>
<line x1="429.55" y1="370.30" x2="429.55" y2="373.10" stroke="#222" stroke-width="1.1"/>
<line x1="442.25" y1="370.30" x2="442.25" y2="373.10" stroke="#222" stroke-width="1.1"/>
<line x1="454.95" y1="370.30" x2="454.95" y2="373.10" stroke="#222" stroke-width="1.1"/>
<rect x="380.00" y="330.90" width="10.20" height="39.40" fill="#b3002d"/>
<line x1="385.10" y1="325.00" x2="385.10" y2="331.70" stroke="#222" stroke-width="1.3"/>
<line x1="383.30" y1="325.60" x2="386.90" y2="325.60" stroke="#222" stroke-width="1.3"/>
<rect x="392.70" y="334.40" width="10.20" height="35.90" fill="#e1951f"/>
<line x1="397.80" y1="326.30" x2="397.80" y2="335.20" stroke="#222" stroke-width="1.3"/>
<line x1="396.00" y1="326.90" x2="399.60" y2="326.90" stroke="#222" stroke-width="1.3"/>
<rect x="405.40" y="351.30" width="10.20" height="19.00" fill="#b3002d"/>
<line x1="410.50" y1="347.80" x2="410.50" y2="352.10" stroke="#222" stroke-width="1.3"/>
<line x1="408.70" y1="348.40" x2="412.30" y2="348.40" stroke="#222" stroke-width="1.3"/>
<rect x="418.10" y="327.70" width="10.20" height="42.60" fill="#e1951f"/>
<line x1="423.20" y1="319.60" x2="423.20" y2="328.50" stroke="#222" stroke-width="1.3"/>
<line x1="421.40" y1="320.20" x2="425.00" y2="320.20" stroke="#222" stroke-width="1.3"/>
<rect x="430.80" y="313.70" width="10.20" height="56.60" fill="#b3002d"/>
<line x1="435.90" y1="306.20" x2="435.90" y2="314.50" stroke="#222" stroke-width="1.3"/>
<line x1="434.10" y1="306.80" x2="437.70" y2="306.80" stroke="#222" stroke-width="1.3"/>
<rect x="443.50" y="306.20" width="10.20" height="64.10" fill="#e1951f"/>
<line x1="448.60" y1="298.20" x2="448.60" y2="307.00" stroke="#222" stroke-width="1.3"/>
<line x1="446.80" y1="298.80" x2="450.40" y2="298.80" stroke="#222" stroke-width="1.3"/>
<line x1="398.00" y1="296.00" x2="447.70" y2="296.00" stroke="#222" stroke-width="1.3"/>
<circle cx="421.60" cy="292.80" r="1.2" fill="#222"/>
<line x1="386.00" y1="304.10" x2="435.60" y2="304.10" stroke="#222" stroke-width="1.3"/>
<circle cx="410.00" cy="300.30" r="1.2" fill="#222"/>
<line x1="384.00" y1="321.00" x2="409.60" y2="321.00" stroke="#222" stroke-width="1.3"/>
<circle cx="396.70" cy="317.80" r="1.2" fill="#222"/>
<line x1="410.90" y1="317.00" x2="423.00" y2="317.00" stroke="#222" stroke-width="1.3"/>
<circle cx="416.80" cy="313.50" r="1.2" fill="#222"/>
<line x1="404.60" y1="382.50" x2="453.90" y2="382.50" stroke="#222" stroke-width="1.3"/>
<line x1="428.80" y1="394.50" x2="453.90" y2="394.50" stroke="#222" stroke-width="1.3"/>
<rect x="387.50" y="257.40" width="9.30" height="9.00" fill="#b3002d"/>
<text x="399.96" y="264.80" font-size="8.3" font-style="normal" font-weight="normal" fill="#1a1a1a" textLength="12.19" lengthAdjust="spacingAndGlyphs">WT</text>
<rect x="416.30" y="257.40" width="9.30" height="9.00" fill="#e1951f"/>
<text x="427.99" y="264.60" font-size="8.3" font-style="italic" font-weight="normal" fill="#1a1a1a" textLength="19.29" lengthAdjust="spacingAndGlyphs">Cxcr2</text>
<text x="447.42" y="260.60" font-size="5.0" font-style="italic" font-weight="normal" fill="#333" textLength="5.21" lengthAdjust="spacingAndGlyphs">-/-</text>
</g>
<rect x="0" y="0" width="520" height="1.3" fill="#000"/><rect x="0" y="0" width="1.2" height="410" fill="#000"/><rect x="518.6" y="0" width="1.4" height="410" fill="#000"/><rect x="0" y="408.1" width="520" height="1.9" fill="#000"/>
</svg>
</body></html>
